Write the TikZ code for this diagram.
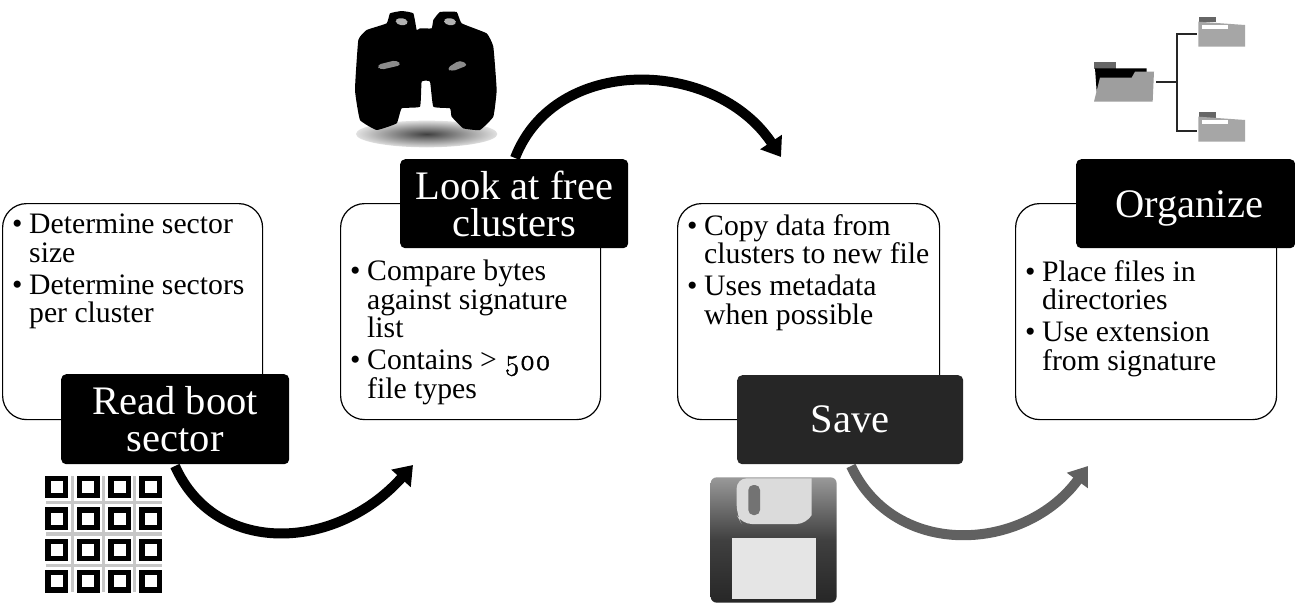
\documentclass[tikz,border=0pt]{standalone}
\usepackage{fontspec}
\setmainfont{Liberation Serif}
\newfontfamily\onum[Numbers=OldStyle]{Latin Modern Roman}[FakeBold=1.5]
\usetikzlibrary{arrows.meta}
\newcommand{\bul}{\makebox[17pt][l]{•}}
\newcommand{\ind}{\hspace*{17pt}}
\tikzset{
  x=1pt,y=-1pt,
  panel/.style={draw=black,line width=1.2pt,fill=white,rounded corners=24pt,anchor=north west,inner sep=0pt},
  bodytext/.style={font=\fontsize{29.7}{28.5}\selectfont,align=left,anchor=north west,inner sep=0pt,text=black},
  title/.style={fill=#1,rounded corners=5pt,text=white,font=\fontsize{40.5}{37}\selectfont,align=center,inner sep=0pt,anchor=north west},
  flow/.style={line width=10pt,draw=#1,-{Triangle[length=18pt,width=25pt,color=#1]}},
}
\begin{document}
\begin{tikzpicture}
\useasboundingbox (0,0) rectangle (1295,603);
\fill[white] (0,0) rectangle (1295,603);
% panels
\node[panel,minimum width=260pt,minimum height=216pt] (p1) at (2,203) {};
\node[panel,minimum width=260pt,minimum height=216pt] (p2) at (340,203) {};
\node[panel,minimum width=262pt,minimum height=216pt] (p3) at (677,203) {};
\node[panel,minimum width=261pt,minimum height=216pt] (p4) at (1015,203) {};
% panel texts
\node[bodytext] (t1) at (12,214) {\bul Determine sector\\[0pt]\ind size\\[3.5pt]\bul Determine sectors\\[0pt]\ind per cluster};
\node[bodytext] (t2) at (350,260) {\bul Compare bytes\\[0pt]\ind against signature\\[0pt]\ind list\\[3.5pt]\bul Contains > {\onum 500}\\[0pt]\ind file types};
\node[bodytext] (t3) at (687,214) {\bul Copy data from\\[0pt]\ind clusters to new file\\[3.5pt]\bul Uses metadata\\[0pt]\ind when possible};
\node[bodytext] (t4) at (1025,260) {\bul Place files in\\[0pt]\ind directories\\[3.5pt]\bul Use extension\\[0pt]\ind from signature};
% title boxes
\node[title=black,minimum width=228pt,minimum height=90pt] (b1) at (61,374) {Read boot\\sector};
\node[title=black,minimum width=228pt,minimum height=89pt] (b2) at (400,159) {Look at free\\clusters};
\node[title={black!85},minimum width=226pt,minimum height=89pt] (b3) at (737,375) {Save};
\node[title=black,minimum width=219pt,minimum height=89pt] (b4) at (1076,159) {\hspace*{7pt}\raisebox{0pt}[32pt][4pt]{Organize}};
% arrows
\coordinate (e1) at (413,465);
\coordinate (e2) at (781,157);
\coordinate (e3) at (1088,466);
\coordinate (s1) at (175,466);
\coordinate (s2) at (515,158);
\coordinate (s3) at (851,466);
\draw[flow=black] (s1) .. controls (215,556) and (335,552) .. (e1);
\draw[flow=black] (s2) .. controls (555,54) and (715,58) .. (e2);
\draw[flow={black!62}] (s3) .. controls (895,560) and (1025,552) .. (e3);
% binoculars
\begin{scope}[shift={(340,10)},x=.3333pt,y=-.3333pt]
  \shade[inner color=black!75,outer color=black!12] (260,372) ellipse [x radius=212,y radius=40];
  \fill[black] plot[smooth cycle,tension=.2] coordinates {(140,40)(150,10)(185,3)(220,10)(230,60)(240,55)(275,55)(280,30)(300,6)(350,6)(365,40)(440,70)(460,110)(470,240)(460,320)(420,360)(370,355)(335,320)(330,295)(280,290)(270,215)(245,215)(240,290)(185,295)(170,340)(110,360)(60,330)(45,240)(55,90)(80,60)};
  \fill[black!45,rounded corners=4pt] (110,165)--(170,150)--(185,165)--(120,180)--cycle;
  \fill[black!45,rounded corners=4pt] (320,175)--(360,150)--(385,165)--(335,185)--cycle;
  \fill[black!30,rounded corners=4pt] (165,25)--(200,25)--(205,45)--(170,45)--cycle;
  \fill[black!30,rounded corners=4pt] (310,25)--(345,25)--(350,45)--(315,45)--cycle;
\end{scope}
% floppy
\begin{scope}[shift={(690,460)},x=.3333pt,y=-.3333pt]
  \shade[top color=black!40,bottom color=black!85,middle color=black!75,rounded corners=6pt] (62,52) rectangle (440,428);
  \fill[black!14] (140,55)--(365,55)--(365,165)[rounded corners=10pt]--(350,192)--(155,192)--(140,165)--cycle;
  \fill[black!55,rounded corners=5pt] (175,75) rectangle (210,165);
  \fill[black!10] (125,235) rectangle (378,418);
\end{scope}
% folder tree
\begin{scope}[shift={(1080,5)},x=.3333pt,y=-.3333pt]
  \fill[black!60] (42,170) rectangle (108,192);
  \fill[black] (45,190) -- (200,190) -- (200,205) -- (50,260) -- cycle;
  \fill[black!38] (60,218)--(155,218)--(165,200)--(222,200)--(218,290)--(42,290)--cycle;
  \fill[black!60] (358,35) rectangle (408,52);
  \fill[black!35] (355,50) -- (495,60) -- (495,125) -- (355,125) -- cycle;
  \fill[white] (365,60) rectangle (445,72);
  \fill[black!60] (358,322) rectangle (408,338);
  \fill[black!35] (355,335) -- (495,345) -- (495,410) -- (355,410) -- cycle;
  \fill[white] (365,345) rectangle (445,357);
  \draw[line width=2.2pt,black!85] (228,232) -- (290,232);
  \draw[line width=2.2pt,black!85] (350,88) -- (290,88) -- (290,377) -- (350,377);
\end{scope}
% sector grid
\begin{scope}[shift={(30,465)},x=.3333pt,y=-.3333pt]
  \foreach \v in {127,220,314} \fill[black!22] (\v-5,32) rectangle (\v+5,382);
  \foreach \h in {112,207,302} \fill[black!22] (47,\h-5) rectangle (397,\h+5);
  \foreach \c in {80,175,269,362} \foreach \r in {66,161,255,349}
    \fill[black] (\c-34,\r-34) rectangle (\c+34,\r+34);
  \foreach \c in {80,175,269,362} \foreach \r in {66,161,255,349}
    \fill[white] (\c-18,\r-18) rectangle (\c+18,\r+18);
\end{scope}
\end{tikzpicture}
\end{document}
